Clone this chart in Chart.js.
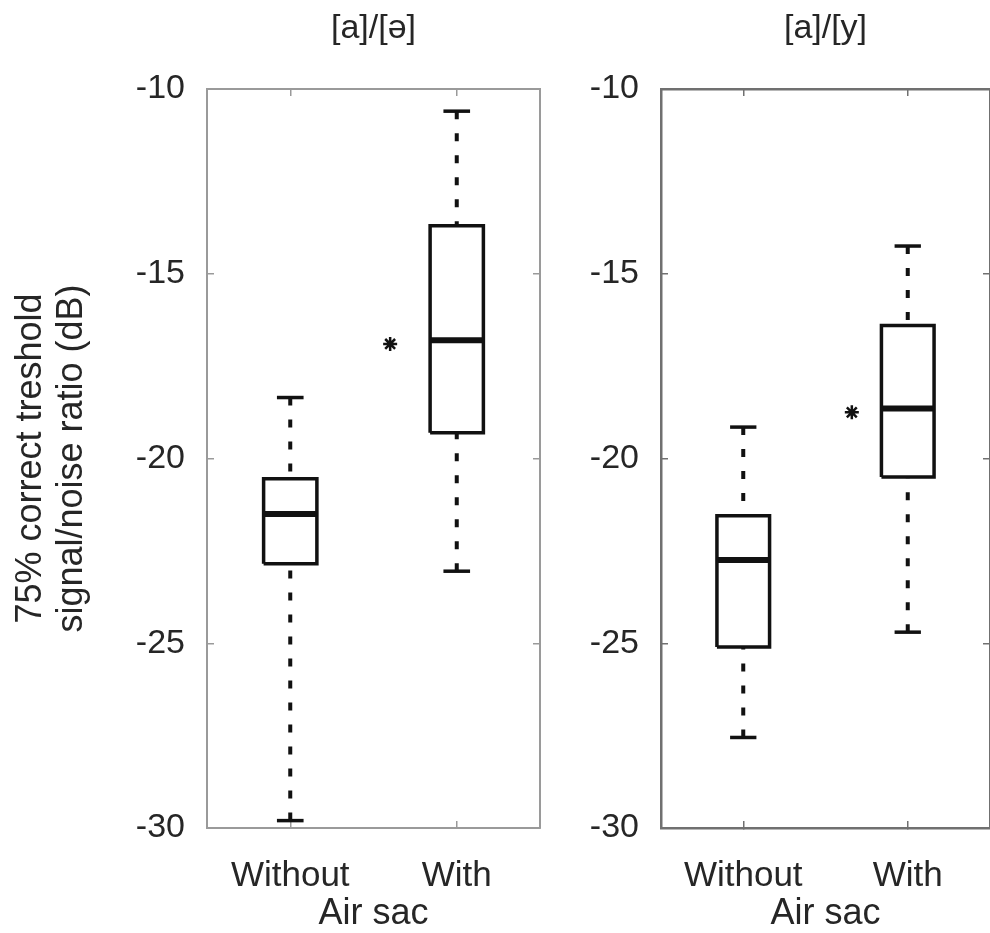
<!DOCTYPE html>
<html>
<head>
<meta charset="utf-8">
<script src="https://cdn.jsdelivr.net/npm/chart.js@4.4.1/dist/chart.umd.min.js"></script>
<style>
  html, body { margin: 0; padding: 0; background: #fff; overflow: hidden; width: 990px; height: 933px; }
  canvas { position: absolute; top: 0; }
  #c1 { left: 0; }
  #c2 { left: 450px; }
</style>
</head>
<body>
<canvas id="c1" width="560" height="933"></canvas>
<canvas id="c2" width="560" height="933"></canvas>
<script>
// categories and tick labels
const groups = ["Without", "With"];
const yTicks = [-30, -25, -20, -15, -10];
const yTitle = ["75% correct treshold", "signal/noise ratio (dB)"];
const xTitle = "Air sac";

// panel 1: [a]/[ə]
const aeTitle = "[a]/[ə]";
const aeLow = [-29.8, -23.05];
const aeQ1 = [-22.85, -19.3];
const aeMed = [-21.5, -16.8];
const aeQ3 = [-20.55, -13.7];
const aeHigh = [-18.35, -10.6];
const aeStar = [{ x: 1.6, y: -16.9 }];

// panel 2: [a]/[y]
const ayTitle = "[a]/[y]";
const ayLow = [-27.55, -24.7];
const ayQ1 = [-25.1, -20.5];
const ayMed = [-22.75, -18.65];
const ayQ3 = [-21.55, -16.4];
const ayHigh = [-19.15, -14.25];
const ayStar = [{ x: 1.66, y: -18.75 }];

const TEXT = "#262626";
const BOX_HALF = 0.16;
const CAP_HALF = 0.08;

function boxDatasets(low, q1, med, q3, high, star) {
  const ds = [];
  const line = (pts, extra) => Object.assign({
    data: pts,
    showLine: true,
    borderColor: "#111",
    borderWidth: 3.5,
    pointRadius: 0,
    fill: false,
    tension: 0,
  }, extra || {});

  for (let i = 0; i < groups.length; i++) {
    const x = i + 1;
    // whiskers (dotted), drawn from the ends toward the box
    ds.push(line([{ x, y: high[i] }, { x, y: q3[i] }], { borderWidth: 4, borderDash: [8, 14] }));
    ds.push(line([{ x, y: low[i] }, { x, y: q1[i] }], { borderWidth: 4, borderDash: [8, 14] }));
    // caps
    ds.push(line([{ x: x - CAP_HALF, y: high[i] }, { x: x + CAP_HALF, y: high[i] }]));
    ds.push(line([{ x: x - CAP_HALF, y: low[i] }, { x: x + CAP_HALF, y: low[i] }]));
    // box
    ds.push(line([
      { x: x - BOX_HALF, y: q1[i] }, { x: x + BOX_HALF, y: q1[i] },
      { x: x + BOX_HALF, y: q3[i] }, { x: x - BOX_HALF, y: q3[i] },
      { x: x - BOX_HALF, y: q1[i] },
    ], { borderJoinStyle: "miter" }));
    // median
    ds.push(line([{ x: x - BOX_HALF, y: med[i] }, { x: x + BOX_HALF, y: med[i] }], { borderWidth: 6 }));
  }
  ds.push({
    data: star,
    showLine: false,
    pointStyle: "star",
    pointRadius: 7,
    borderWidth: 2.5,
    borderColor: "#111",
    backgroundColor: "#111",
  });
  return ds;
}

function setTicks(vals) {
  return function (scale) {
    scale.ticks = vals.map(v => ({ value: v }));
  };
}

function makeChart(id, title, datasets, yWidth, showYTitle, frame, frameW) {
  const tickGrid = {
    display: true,
    drawOnChartArea: false,
    drawTicks: true,
    tickLength: -7,
    color: frame,
    lineWidth: 1.5,
  };
  const border = { display: true, color: frame, width: frameW };
  return new Chart(document.getElementById(id), {
    type: "scatter",
    data: { datasets },
    options: {
      responsive: false,
      animation: false,
      layout: { padding: { left: 0, right: 20, top: 0, bottom: 0 } },
      plugins: { legend: { display: false }, tooltip: { enabled: false } },
      scales: {
        x: {
          type: "linear",
          position: "bottom",
          min: 0.5,
          max: 2.5,
          afterBuildTicks: setTicks([1, 2]),
          afterFit: s => { s.height = 105; },
          grid: tickGrid,
          border,
          ticks: {
            color: TEXT,
            padding: 34,
            maxRotation: 0,
            font: { family: "Liberation Sans, Arial, sans-serif", size: 35 },
            callback: v => groups[v - 1],
          },
          title: {
            display: true,
            text: xTitle,
            color: TEXT,
            padding: { top: 0, bottom: 1 },
            font: { family: "Liberation Sans, Arial, sans-serif", size: 36, lineHeight: 1 },
          },
        },
        x2: {
          type: "linear",
          position: "top",
          min: 0.5,
          max: 2.5,
          afterBuildTicks: setTicks([1, 2]),
          afterFit: s => { s.height = 89; },
          grid: tickGrid,
          border,
          ticks: { display: false },
          title: {
            display: true,
            text: title,
            color: TEXT,
            padding: { top: 8, bottom: 0 },
            font: { family: "Liberation Sans, Arial, sans-serif", size: 34, lineHeight: 1.2 },
          },
        },
        y: {
          type: "linear",
          position: "left",
          min: -30,
          max: -10,
          afterBuildTicks: setTicks(yTicks),
          afterFit: s => { s.width = yWidth; },
          grid: tickGrid,
          border,
          ticks: {
            color: TEXT,
            padding: 29,
            font: { family: "Liberation Sans, Arial, sans-serif", size: 34 },
          },
          title: {
            display: showYTitle,
            text: yTitle,
            color: TEXT,
            padding: { top: 10, bottom: 0 },
            font: { family: "Liberation Sans, Arial, sans-serif", size: 36, lineHeight: 1.15 },
          },
        },
        y2: {
          type: "linear",
          position: "right",
          min: -30,
          max: -10,
          afterBuildTicks: setTicks(yTicks),
          afterFit: s => { s.width = 0; },
          grid: tickGrid,
          border,
          ticks: { display: false },
        },
      },
    },
  });
}

makeChart("c1", aeTitle, boxDatasets(aeLow, aeQ1, aeMed, aeQ3, aeHigh, aeStar), 207, true, "#9a9a9a", 2);
makeChart("c2", ayTitle, boxDatasets(ayLow, ayQ1, ayMed, ayQ3, ayHigh, ayStar), 211, false, "#707070", 2.5);
</script>
</body>
</html>
